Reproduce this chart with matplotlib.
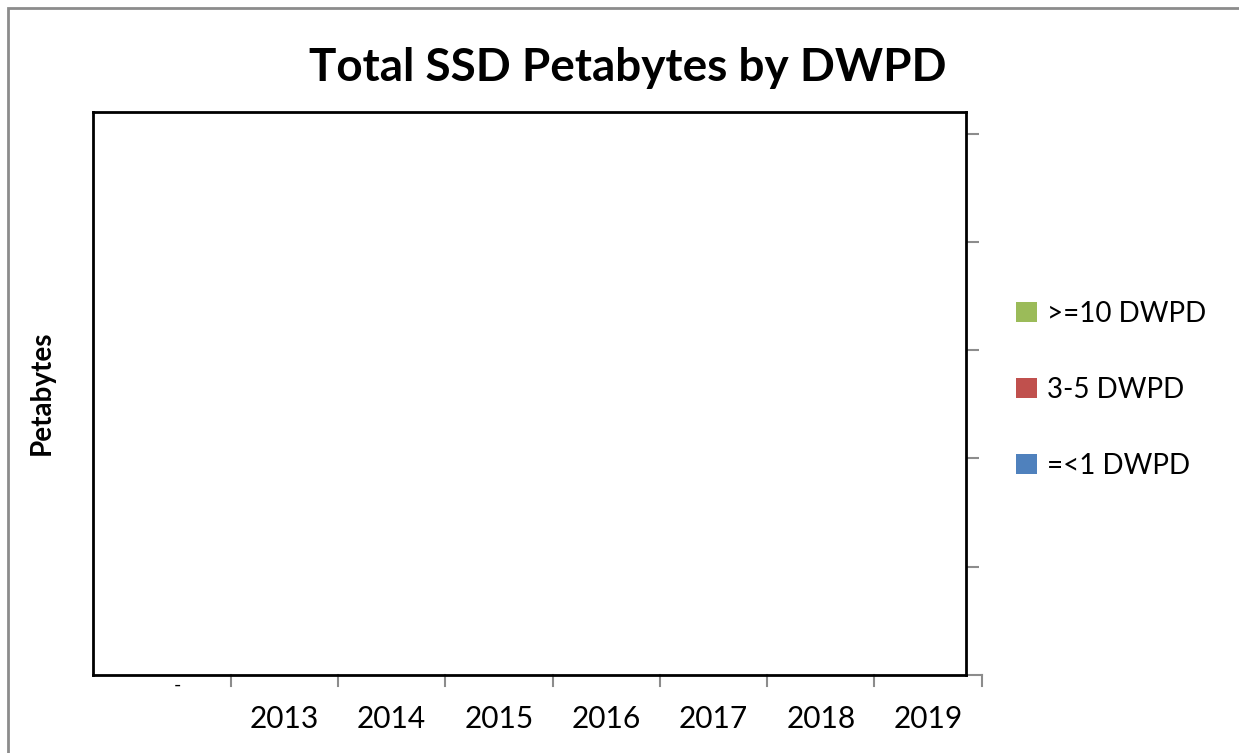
import numpy as np
import matplotlib.pyplot as plt
from matplotlib.patches import Rectangle

# Chart data (no values plotted in the source chart)
years = ["-", "2013", "2014", "2015", "2016", "2017", "2018", "2019"]
low_dwpd = [0, 0, 0, 0, 0, 0, 0, 0]
mid_dwpd = [0, 0, 0, 0, 0, 0, 0, 0]
high_dwpd = [0, 0, 0, 0, 0, 0, 0, 0]
series_names = ["=<1 DWPD", "3-5 DWPD", ">=10 DWPD"]
series_colors = ["#4F81BD", "#C0504D", "#9BBB59"]

W, H = 1239, 753
fig = plt.figure(figsize=(W / 100, H / 100), dpi=100)
plt.rcParams['font.family'] = ['Lato', 'DejaVu Sans']

# outer chart frame
fig.patches.append(Rectangle((8 / W, -0.1), 1.2, 1 - 8 / H + 0.1, transform=fig.transFigure,
                             fill=False, edgecolor="#8c8c8c", linewidth=2))

# plot area in pixels: (93,112) - (966,675)
ax = fig.add_axes([93 / W, 1 - 675 / H, (966 - 93) / W, (675 - 112) / H])

x = np.arange(len(years))
bottom = np.zeros(len(years))
for vals, name, col in zip([low_dwpd, mid_dwpd, high_dwpd], series_names, series_colors):
    ax.bar(x, vals, 0.6, bottom=bottom, color=col, label=name)
    bottom = bottom + np.array(vals)

step = 107.3
ax.set_xlim((93 - 177) / step, (966 - 177) / step)
ax.set_ylim(0, (675 - 112) / 108.3)

for s in ax.spines.values():
    s.set_linewidth(2)
    s.set_color("black")

# category axis: gray ticks at boundaries, labels centred
ax.set_xticks([])
for b in np.arange(0.5, 8, 1):
    ax.plot([b, b], [0, -0.1], color="#8c8c8c", lw=1.5, clip_on=False)
ax.plot([(966 - 177) / step, 7.5], [0, 0], color="#8c8c8c", lw=1.5, clip_on=False)
for i, lab in enumerate(years):
    if lab == "-":
        ax.text(i, -0.02, lab, ha="center", va="top", fontsize=14)
    else:
        ax.text(i, -0.41, lab, ha="center", va="center", fontsize=21.5)

# value axis on the right with unlabeled ticks
ax.yaxis.tick_right()
ax.set_yticks([1, 2, 3, 4, 5])
ax.set_yticklabels([])
ax.tick_params(axis="y", direction="out", length=9, width=1.5, color="#8c8c8c")

fig.text(628 / W, 1 - 68 / H, "Total SSD Petabytes by DWPD", ha="center", va="center",
         fontsize=33, fontweight="bold")
fig.text(42 / W, 1 - 393 / H, "Petabytes", ha="center", va="center", rotation=90,
         fontsize=20, fontweight="bold")

handles, labels = ax.get_legend_handles_labels()
leg = fig.legend(handles[::-1], labels[::-1], loc="center left",
                 bbox_to_anchor=(1005 / W, 1 - 390 / H), frameon=False, fontsize=20,
                 handlelength=0.75, handleheight=0.75, handletextpad=0.35, labelspacing=1.8,
                 borderaxespad=0)

fig.savefig("out.png", dpi=100)
